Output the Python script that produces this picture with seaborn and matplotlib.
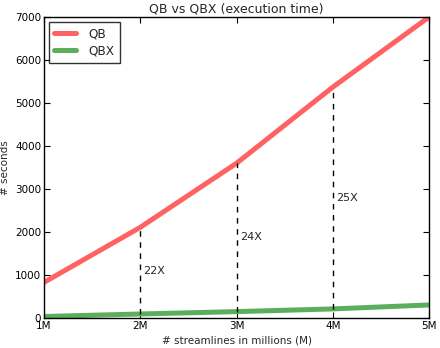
import pandas as pd
import numpy as np
from matplotlib import pyplot as plt
import seaborn as sns

x_vals = [1, 2, 3, 4, 5]
x_labels = ["1M", "2M", "3M", "4M", "5M"]
qb = [830, 2110, 3600, 5370, 7000]
qbx = [37, 95, 150, 213, 305]
speedups = ["22X", "24X", "25X"]
speedup_idx = [1, 2, 3]

df = pd.DataFrame({"M": x_vals * 2, "seconds": qb + qbx,
                   "method": ["QB"] * 5 + ["QBX"] * 5})

sns.set_theme(style="white")
plt.rcParams["font.family"] = ["DejaVu Sans"]
plt.rcParams.update({
    "xtick.direction": "in", "ytick.direction": "in",
    "xtick.top": True, "ytick.right": True,
    "xtick.major.size": 4, "ytick.major.size": 4,
    "xtick.bottom": True, "ytick.left": True,
    "xtick.major.pad": 2, "ytick.major.pad": 2,
})

fig = plt.figure(figsize=(4.4, 3.48), dpi=100)
ax = fig.add_axes([0.1, 0.086, 0.875, 0.865])

sns.lineplot(data=df, x="M", y="seconds", hue="method",
             palette={"QB": "#ff6262", "QBX": "#5cae5c"},
             linewidth=3.6, ax=ax)

for i, lab in zip(speedup_idx, speedups):
    ax.vlines(x_vals[i], qbx[i], qb[i], colors="black", linestyles=(0, (4, 4)), linewidth=1)
    ax.text(x_vals[i] + 0.035, (qb[i] + qbx[i]) / 2, lab, fontsize=8, va="center")

for s in ax.spines.values():
    s.set_color("black")
    s.set_linewidth(1)

ax.set_xlim(1, 5)
ax.set_ylim(0, 7000)
ax.set_xticks(x_vals)
ax.set_xticklabels(x_labels, fontsize=7.5)
ax.set_yticks(range(0, 7001, 1000))
ax.tick_params(axis="y", labelsize=7.5)
ax.tick_params(colors="black", width=0.8)
ax.set_xlabel("# streamlines in millions (M)", fontsize=7.5, labelpad=3)
ax.set_ylabel("# seconds", fontsize=7.5, labelpad=4)
ax.set_title("QB vs QBX (execution time)", fontsize=9, pad=3)

leg = ax.legend(loc="upper left", fontsize=8.7, fancybox=False, frameon=True,
                handlelength=1.8, borderpad=0.45, labelspacing=0.35,
                handletextpad=1.0, borderaxespad=0.4)
leg.get_frame().set_edgecolor("black")
leg.get_frame().set_linewidth(1)

plt.savefig("out.png")
